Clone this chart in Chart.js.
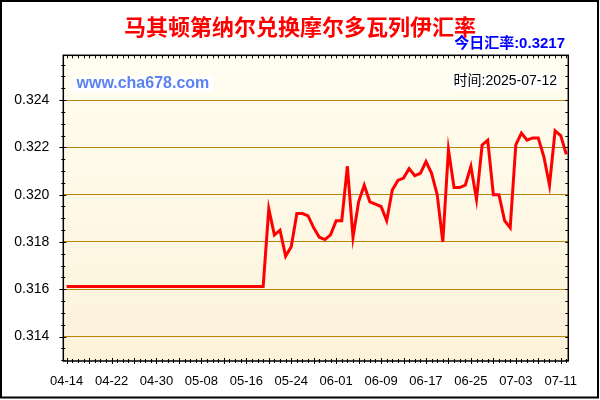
<!DOCTYPE html>
<html lang="zh">
<head>
  <meta charset="UTF-8">
  <title>马其顿第纳尔兑换摩尔多瓦列伊汇率</title>
  <script src="https://cdn.jsdelivr.net/npm/chart.js"></script>
  <style>
    body { margin: 0; background: #fff; }
  </style>
</head>
<body>
  <canvas id="rateChart" width="600" height="400"></canvas>

  <script>
    // 日期 (04-14 ~ 07-12)
    const dates = [
      '04-14','04-15','04-16','04-17','04-18','04-19','04-20','04-21','04-22','04-23',
      '04-24','04-25','04-26','04-27','04-28','04-29','04-30',
      '05-01','05-02','05-03','05-04','05-05','05-06','05-07','05-08','05-09','05-10',
      '05-11','05-12','05-13','05-14','05-15','05-16','05-17','05-18','05-19','05-20',
      '05-21','05-22','05-23','05-24','05-25','05-26','05-27','05-28','05-29','05-30','05-31',
      '06-01','06-02','06-03','06-04','06-05','06-06','06-07','06-08','06-09','06-10',
      '06-11','06-12','06-13','06-14','06-15','06-16','06-17','06-18','06-19','06-20',
      '06-21','06-22','06-23','06-24','06-25','06-26','06-27','06-28','06-29','06-30',
      '07-01','07-02','07-03','07-04','07-05','07-06','07-07','07-08','07-09','07-10',
      '07-11','07-12'
    ];

    // 汇率
    const rates = [
      0.31612,0.31612,0.31612,0.31612,0.31612,0.31612,0.31612,0.31612,0.31612,0.31612,
      0.31612,0.31612,0.31612,0.31612,0.31612,0.31612,0.31612,0.31612,0.31612,0.31612,
      0.31612,0.31612,0.31612,0.31612,0.31612,0.31612,0.31612,0.31612,0.31612,0.31612,
      0.31612,0.31612,0.31612,0.31612,0.31612,0.31612,
      0.3194,0.3183,0.3185,0.3174,0.3178,0.3192,0.3192,0.3191,0.3186,0.3182,
      0.3181,0.3183,0.3189,0.3189,0.3212,0.3182,0.3197,0.3204,0.3197,0.3196,
      0.3195,0.3189,0.3202,0.3206,0.3207,0.3211,0.3208,0.3209,0.3214,0.3209,
      0.3200,0.3180,0.3219,0.3203,0.3203,0.3204,0.3212,0.3198,0.3221,0.3223,
      0.3200,0.3200,0.3189,0.3186,0.3221,0.3226,0.3223,0.3224,0.3224,0.3216,
      0.3204,0.3227,0.3225,0.3217
    ];

    // 刻度
    const yTicks = [0.314, 0.316, 0.318, 0.320, 0.322, 0.324];
    const xTickIdx = [0, 8, 16, 24, 32, 40, 48, 56, 64, 72, 80, 88];

    const title = '马其顿第纳尔兑换摩尔多瓦列伊汇率';
    const todayText = '今日汇率:' + rates[rates.length - 1].toFixed(4);
    const siteText = 'www.cha678.com';
    const timeText = '时间:2025-07-12';

    const yMin = 0.31297, yMax = 0.32589;

    const decor = {
      id: 'decor',
      beforeDraw(chart) {
        const { ctx, chartArea: a } = chart;
        ctx.save();
        ctx.fillStyle = '#fff';
        ctx.fillRect(0, 0, chart.width, chart.height);
        const g = ctx.createLinearGradient(0, a.top, 0, a.bottom);
        g.addColorStop(0, '#FFFEF1');
        g.addColorStop(1, '#FDF2DA');
        ctx.fillStyle = g;
        ctx.fillRect(a.left, a.top, a.right - a.left, a.bottom - a.top);
        ctx.restore();
      },
      afterDraw(chart) {
        const { ctx, chartArea: a } = chart;
        const xs = chart.scales.x, ys = chart.scales.y;
        ctx.save();

        // 边框
        ctx.strokeStyle = '#000';
        ctx.lineWidth = 1.5;
        ctx.strokeRect(a.left, a.top, a.right - a.left, a.bottom - a.top);

        // 刻度线
        ctx.lineWidth = 1;
        ctx.beginPath();
        for (let i = 0; i < dates.length; i++) {
          const px = Math.round(xs.getPixelForValue(i)) + 0.5;
          const major = i % 4 === 0;
          ctx.moveTo(px, a.bottom - (major ? 3 : 2));
          ctx.lineTo(px, a.bottom + (major ? 3 : 2));
          ctx.moveTo(px, a.top);
          ctx.lineTo(px, a.top + 3);
        }
        for (let k = Math.ceil(yMin / 0.0005); k * 0.0005 <= yMax; k++) {
          const v = k * 0.0005;
          const py = Math.round(ys.getPixelForValue(v)) + 0.5;
          const major = k % 4 === 0;
          ctx.moveTo(a.left - (major ? 4 : 2), py);
          ctx.lineTo(a.left + (major ? 3 : 2), py);
          ctx.moveTo(a.right, py);
          ctx.lineTo(a.right - 3, py);
        }
        ctx.stroke();

        // 标题
        ctx.textBaseline = 'middle';
        ctx.textAlign = 'center';
        ctx.fillStyle = '#FF0000';
        ctx.font = 'bold 22px "Noto Sans CJK SC"';
        ctx.fillText(title, 300, 27);

        ctx.textAlign = 'right';
        ctx.fillStyle = '#0000FF';
        ctx.font = 'bold 15px "Liberation Sans", "Noto Sans CJK SC"';
        ctx.fillText(todayText, 565, 44);

        // 网址
        ctx.font = 'bold 16px "Liberation Sans"';
        ctx.textAlign = 'left';
        const sw = ctx.measureText(siteText).width;
        ctx.fillStyle = '#fff';
        ctx.fillRect(73, 76, sw + 7, 16);
        ctx.fillStyle = '#5A82F0';
        ctx.fillText(siteText, 76.5, 84);

        // 时间
        ctx.font = '14px "Liberation Sans", "Noto Sans CJK SC"';
        ctx.textAlign = 'right';
        const tw = ctx.measureText(timeText).width;
        ctx.fillStyle = '#fff';
        ctx.fillRect(557 - tw - 3, 73, tw + 6, 16);
        ctx.fillStyle = '#000';
        ctx.fillText(timeText, 557, 81);

        // 外框
        ctx.strokeStyle = '#000';
        ctx.lineWidth = 2;
        ctx.strokeRect(1, 1, 597, 396.5);
        ctx.restore();
      }
    };

    new Chart(document.getElementById('rateChart'), {
      type: 'line',
      data: {
        datasets: [{
          data: rates.map((v, i) => ({ x: i, y: v })),
          borderColor: '#FF0000',
          borderWidth: 3,
          pointRadius: 0,
          tension: 0,
          fill: false
        }]
      },
      options: {
        responsive: false,
        animation: false,
        layout: { padding: { left: 0, top: 55.3, right: 31.7, bottom: 0 } },
        plugins: {
          legend: { display: false },
          tooltip: { enabled: false }
        },
        scales: {
          x: {
            type: 'linear',
            min: -0.6,
            max: 89.35,
            afterBuildTicks: s => { s.ticks = xTickIdx.map(v => ({ value: v })); },
            afterFit: s => { s.height = 39; },
            grid: { display: false, drawTicks: false },
            border: { display: false },
            ticks: {
              autoSkip: false,
              maxRotation: 0,
              padding: 13,
              color: '#000',
              font: { family: '"Liberation Sans"', size: 13 },
              callback: v => dates[v]
            }
          },
          y: {
            min: yMin,
            max: yMax,
            afterBuildTicks: s => { s.ticks = yTicks.map(v => ({ value: v })); },
            afterFit: s => { s.width = 63.3; },
            grid: { color: '#B8860B', lineWidth: 1, drawTicks: false },
            border: { display: false },
            ticks: {
              padding: 14,
              color: '#000',
              font: { family: '"Liberation Sans"', size: 14 },
              callback: v => v.toFixed(3)
            }
          }
        }
      },
      plugins: [decor]
    });
  </script>
</body>
</html>
